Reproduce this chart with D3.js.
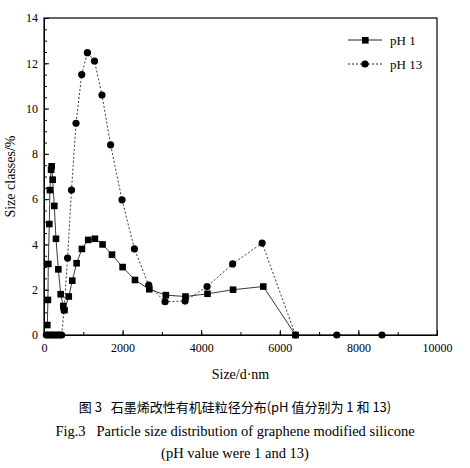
<!DOCTYPE html>
<html><head><meta charset="utf-8">
<script src="https://cdn.jsdelivr.net/npm/d3@7"></script>
<style>body{margin:0;background:#fff} text{white-space:pre}</style>
</head><body><div id="chart"></div>
<script>
// pH 1 series
var ph1X = [84, 100, 110, 135, 150, 180, 195, 220, 262, 305, 365, 425, 490, 520, 630, 720, 830, 965, 1125, 1295, 1490, 1730, 2000, 2315, 2680, 3100, 3600, 4160, 4810, 5580, 6400];
var ph1Y = [0.44, 1.55, 3.14, 4.9, 6.4, 7.3, 7.45, 6.86, 5.7, 4.25, 2.9, 1.8, 1.28, 1.1, 1.7, 2.4, 3.17, 3.8, 4.2, 4.25, 4.0, 3.55, 3.0, 2.43, 2.02, 1.76, 1.7, 1.82, 2.0, 2.14, 0];
// pH 13 series
var ph13X = [60, 100, 150, 200, 250, 300, 350, 400, 450, 510, 600, 700, 815, 960, 1105, 1285, 1475, 1695, 1985, 2300, 2665, 3080, 3590, 4150, 4800, 5550, 6400, 7450, 8600];
var ph13Y = [0, 0, 0, 0, 0, 0, 0, 0, 0, 1.1, 3.4, 6.4, 9.35, 11.5, 12.47, 12.1, 10.6, 8.4, 5.97, 3.8, 2.2, 1.47, 1.5, 2.14, 3.14, 4.06, 0, 0, 0];
var xTicks = [0, 2000, 4000, 6000, 8000, 10000];
var yTicks = [0, 2, 4, 6, 8, 10, 12, 14];

var W = 470, H = 468;
var m = {left: 44, top: 18, right: 33, bottom: 133};
var x = d3.scaleLinear().domain([0, 10000]).range([m.left, W - m.right]);
var y = d3.scaleLinear().domain([0, 14]).range([H - m.bottom, m.top]);

var svg = d3.select("#chart").append("svg").attr("width", W).attr("height", H)
    .style("font-family", "'Liberation Serif', serif");

// axes with inward ticks
svg.append("g").attr("transform", "translate(0," + y(0) + ")")
    .call(d3.axisBottom(x).tickValues(xTicks).tickFormat(d3.format("d")).tickSizeInner(-5).tickSizeOuter(0).tickPadding(8))
    .call(g => g.selectAll("text").style("font-size", "12px").style("font-family", "'Liberation Serif', serif"));
svg.append("g").attr("transform", "translate(0," + y(0) + ")")
    .call(d3.axisBottom(x).ticks(10).tickSizeInner(-3).tickSizeOuter(0).tickFormat(""));
svg.append("g").attr("transform", "translate(" + x(0) + ",0)")
    .call(d3.axisLeft(y).tickValues(yTicks).tickSizeInner(-5).tickSizeOuter(0).tickPadding(6))
    .call(g => g.selectAll("text").style("font-size", "12px").style("font-family", "'Liberation Serif', serif"));
svg.append("g").attr("transform", "translate(" + x(0) + ",0)")
    .call(d3.axisLeft(y).ticks(28).tickSizeInner(-3).tickSizeOuter(0).tickFormat(""));
svg.append("rect").attr("x", x(0)).attr("y", y(14)).attr("width", x(10000) - x(0)).attr("height", y(0) - y(14))
    .attr("fill", "none").attr("stroke", "#000").attr("stroke-width", 1.2);

svg.append("text").attr("x", (x(0) + x(10000)) / 2).attr("y", y(0) + 44).attr("text-anchor", "middle")
    .style("font-size", "14px").text("Size/d·nm");
svg.append("text").attr("transform", "translate(15," + y(7) + ") rotate(-90)").attr("text-anchor", "middle")
    .style("font-size", "14px").text("Size classes/%");

var line = d3.line().x(d => x(d[0])).y(d => y(d[1]));
var d1 = ph1X.map((v, i) => [v, ph1Y[i]]);
var d13 = ph13X.map((v, i) => [v, ph13Y[i]]);

svg.append("path").datum(d13).attr("d", line).attr("fill", "none").attr("stroke", "#222").attr("stroke-width", 0.9).attr("stroke-dasharray", "2,2");
svg.append("path").datum(d1).attr("d", line).attr("fill", "none").attr("stroke", "#222").attr("stroke-width", 0.9);
svg.selectAll(".c").data(d13).enter().append("circle").attr("cx", d => x(d[0])).attr("cy", d => y(d[1])).attr("r", 3.6).attr("fill", "#000");
svg.selectAll(".s").data(d1).enter().append("rect").attr("x", d => x(d[0]) - 3.3).attr("y", d => y(d[1]) - 3.3).attr("width", 6.6).attr("height", 6.6).attr("fill", "#000");

// legend
var lg = svg.append("g");
lg.append("line").attr("x1", 348).attr("x2", 382).attr("y1", 40).attr("y2", 40).attr("stroke", "#222");
lg.append("rect").attr("x", 362).attr("y", 37).attr("width", 6.6).attr("height", 6.6).attr("fill", "#000");
lg.append("text").attr("x", 390).attr("y", 45).style("font-size", "13px").text("pH 1");
lg.append("line").attr("x1", 348).attr("x2", 382).attr("y1", 64).attr("y2", 64).attr("stroke", "#222").attr("stroke-dasharray", "2,2");
lg.append("circle").attr("cx", 365).attr("cy", 64).attr("r", 3.6).attr("fill", "#000");
lg.append("text").attr("x", 390).attr("y", 69).style("font-size", "13px").text("pH 13");

// caption
svg.append("text").attr("x", 235).attr("y", 412).attr("text-anchor", "middle")
    .style("font-family", "'Noto Sans CJK SC'").style("font-size", "13px").text("图 3   石墨烯改性有机硅粒径分布(pH 值分别为 1 和 13)");
svg.append("text").attr("x", 235).attr("y", 436).attr("text-anchor", "middle").style("font-size", "14.5px")
    .text("Fig.3   Particle size distribution of graphene modified silicone");
svg.append("text").attr("x", 235).attr("y", 458).attr("text-anchor", "middle").style("font-size", "14.5px")
    .text("(pH value were 1 and 13)");
</script></body></html>
